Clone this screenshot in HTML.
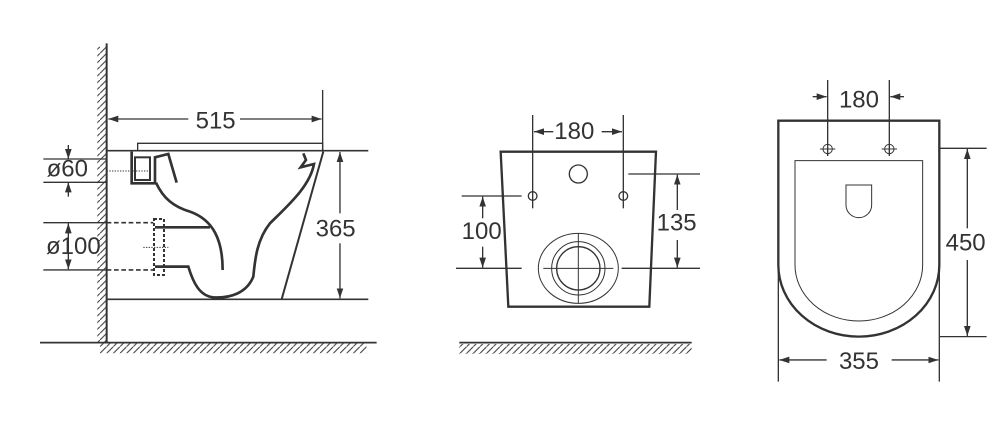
<!DOCTYPE html>
<html><head><meta charset="utf-8"><style>html,body{margin:0;padding:0;background:#fff}svg{display:block}</style></head>
<body>
<svg width="1000" height="431" viewBox="0 0 1000 431" xmlns="http://www.w3.org/2000/svg">
<defs>
<marker id="a" viewBox="0 0 30 20" markerWidth="30" markerHeight="20" markerUnits="userSpaceOnUse" refX="30" refY="10" orient="auto-start-reverse"><path d="M0,0L30,10L0,20Z" fill="#333"/></marker>
<pattern id="h" width="20" height="20" patternUnits="userSpaceOnUse"><path d="M0,20L20,0" stroke="#333" stroke-width="3"/></pattern>
</defs>
<g font-family="Liberation Sans, sans-serif" font-size="72" fill="#333" text-anchor="middle">
<!-- side view -->
<g transform="translate(40,40) scale(0.3333)" stroke="#333" fill="none" stroke-width="4">
<rect x="172" y="20" width="28" height="888" fill="url(#h)" stroke="none"/>
<rect x="180" y="910" width="800" height="30" fill="url(#h)" stroke="none"/>
<line x1="200" y1="10" x2="200" y2="908" stroke-width="6"/>
<line x1="0" y1="908" x2="1010" y2="908" stroke-width="5"/>
<line x1="848" y1="150" x2="848" y2="330"/>
<line x1="205" y1="237" x2="445" y2="237" marker-start="url(#a)"/>
<line x1="600" y1="237" x2="845" y2="237" marker-end="url(#a)"/>
<polyline points="293,330 293,310 848,310 848,330"/>
<line x1="200" y1="332" x2="985" y2="332" stroke-width="5"/>
<line x1="200" y1="778" x2="985" y2="778" stroke-width="5"/>
<line x1="850" y1="335" x2="725" y2="778" stroke-width="6"/>
<line x1="900" y1="336" x2="900" y2="520" marker-start="url(#a)"/>
<line x1="900" y1="610" x2="900" y2="775" marker-end="url(#a)"/>
<line x1="10" y1="357" x2="200" y2="357"/>
<line x1="10" y1="427" x2="200" y2="427"/>
<line x1="85" y1="315" x2="85" y2="357" marker-end="url(#a)"/>
<line x1="85" y1="470" x2="85" y2="427" marker-end="url(#a)"/>
<line x1="200" y1="393" x2="330" y2="393" stroke-dasharray="4,4" stroke-width="3"/>
<path d="M275,335 L275,430 L345,430 L345,352 L385,342 L410,428" stroke-width="8"/>
<rect x="285" y="352" width="45" height="68" stroke-width="6"/>
<path d="M348,428 C370,475 400,500 450,515 C520,540 548,600 548,690" stroke-width="8"/>
<path d="M790,340 L798,360 L782,382 L822,372 C810,440 740,500 690,550 C650,600 645,660 640,710 C620,760 570,775 520,772 C480,768 460,730 445,680 L345,680" stroke-width="8"/>
<line x1="345" y1="562" x2="510" y2="562" stroke-width="8"/>
<rect x="342" y="537" width="30" height="168" stroke-dasharray="9,6" stroke-width="6"/>
<line x1="200" y1="548" x2="340" y2="548" stroke-dasharray="14,8" stroke-width="5"/>
<line x1="200" y1="690" x2="340" y2="690" stroke-dasharray="14,8" stroke-width="5"/>
<line x1="10" y1="548" x2="200" y2="548"/>
<line x1="10" y1="690" x2="200" y2="690"/>
<line x1="85" y1="550" x2="85" y2="688" marker-start="url(#a)" marker-end="url(#a)"/>
<line x1="310" y1="622" x2="385" y2="622" stroke-dasharray="4,4" stroke-width="3"/>
<g fill="#333" stroke="none">
<text x="527" y="265">515</text>
<text x="887" y="590">365</text>
<text x="82" y="410">ø60</text>
<text x="100" y="642">ø100</text>
</g>
</g>
<!-- front view -->
<g transform="translate(440,100) scale(0.3333)" stroke="#333" fill="none" stroke-width="4">
<rect x="58" y="732" width="697" height="30" fill="url(#h)" stroke="none"/>
<line x1="58" y1="728" x2="755" y2="728" stroke-width="5"/>
<polygon points="182,155 648,155 628,620 205,620" stroke-width="7"/>
<line x1="278" y1="45" x2="278" y2="325"/>
<line x1="550" y1="45" x2="550" y2="325"/>
<line x1="340" y1="95" x2="282" y2="95" marker-end="url(#a)"/>
<line x1="485" y1="95" x2="546" y2="95" marker-end="url(#a)"/>
<circle cx="415" cy="222" r="27"/>
<circle cx="278" cy="288" r="13"/>
<circle cx="550" cy="288" r="13"/>
<line x1="65" y1="288" x2="245" y2="288"/>
<line x1="48" y1="505" x2="245" y2="505"/>
<line x1="128" y1="290" x2="128" y2="355" marker-start="url(#a)"/>
<line x1="128" y1="440" x2="128" y2="503" marker-end="url(#a)"/>
<line x1="565" y1="222" x2="780" y2="222"/>
<line x1="545" y1="505" x2="780" y2="505"/>
<line x1="712" y1="224" x2="712" y2="330" marker-start="url(#a)"/>
<line x1="712" y1="420" x2="712" y2="503" marker-end="url(#a)"/>
<ellipse cx="415" cy="505" rx="120" ry="105" stroke-width="3"/>
<circle cx="415" cy="505" r="80" stroke-width="3"/>
<circle cx="415" cy="505" r="65" stroke-width="4"/>
<line x1="415" y1="400" x2="415" y2="610" stroke-width="3"/>
<line x1="310" y1="505" x2="520" y2="505" stroke-width="3"/>
<g fill="#333" stroke="none">
<text x="403" y="117">180</text>
<text x="125" y="417">100</text>
<text x="710" y="392">135</text>
</g>
</g>
<!-- top view -->
<g transform="translate(760,70) scale(0.3333)" stroke="#333" fill="none" stroke-width="4">
<path d="M55,585 L55,152 L538,152 L538,585 A241.5,215 0 0 1 55,585" stroke-width="7"/>
<path d="M105,585 L105,272 L488,272 L488,585 A191.5,168 0 0 1 105,585" stroke-width="3"/>
<path d="M258,345 L335,345 L335,405 A38.5,38 0 0 1 258,405 Z" stroke-width="3"/>
<line x1="203" y1="30" x2="203" y2="258"/>
<line x1="388" y1="30" x2="388" y2="258"/>
<circle cx="203" cy="237" r="14" stroke-width="3"/>
<circle cx="388" cy="237" r="14" stroke-width="3"/>
<line x1="180" y1="237" x2="226" y2="237" stroke-width="3"/>
<line x1="365" y1="237" x2="411" y2="237" stroke-width="3"/>
<line x1="158" y1="80" x2="200" y2="80" marker-end="url(#a)"/>
<line x1="432" y1="80" x2="391" y2="80" marker-end="url(#a)"/>
<line x1="540" y1="235" x2="680" y2="235"/>
<line x1="540" y1="800" x2="680" y2="800"/>
<line x1="622" y1="237" x2="622" y2="475" marker-start="url(#a)"/>
<line x1="622" y1="570" x2="622" y2="798" marker-end="url(#a)"/>
<line x1="55" y1="585" x2="55" y2="935"/>
<line x1="538" y1="585" x2="538" y2="935"/>
<line x1="58" y1="870" x2="200" y2="870" marker-start="url(#a)"/>
<line x1="395" y1="870" x2="535" y2="870" marker-end="url(#a)"/>
<g fill="#333" stroke="none">
<text x="297" y="112">180</text>
<text x="617" y="542">450</text>
<text x="297" y="897">355</text>
</g>
</g>
</g>
</svg>
</body></html>
